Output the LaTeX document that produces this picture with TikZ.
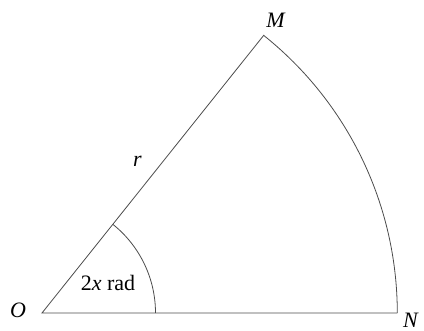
\documentclass[tikz,border=0pt]{standalone}
\usepackage{fontspec}
\setmainfont{Liberation Serif}
\begin{document}
\begin{tikzpicture}[x=1pt,y=-1pt,
  edge/.style={draw=black!70,line width=0.8pt},
  lbl/.style={inner sep=0pt,font=\fontsize{22}{26}\selectfont}]
\useasboundingbox (0,0) rectangle (424,331);
\coordinate (O) at (42,313);
\coordinate (N) at (397.3,313);
\coordinate (M) at (264,35);
\coordinate (A) at (155.5,313);
\draw[edge] (M) -- (O) -- (N);
\draw[edge] (N) arc[start angle=0,end angle=-51.4,radius=355.3];
\draw[edge] (A) arc[start angle=0,end angle=-51.4,radius=113.5];
\node[lbl] (lO) at (18,310) {\textit{O}};
\node[lbl,anchor=base] (lN) at (411,328) {\textit{N}};
\node[lbl] (lM) at (276,20) {\textit{M}};
\node[lbl] (lr) at (137.5,161) {\textit{r}};
\node[lbl] (la) at (108,283) {2\textit{x} rad};
\end{tikzpicture}
\end{document}
